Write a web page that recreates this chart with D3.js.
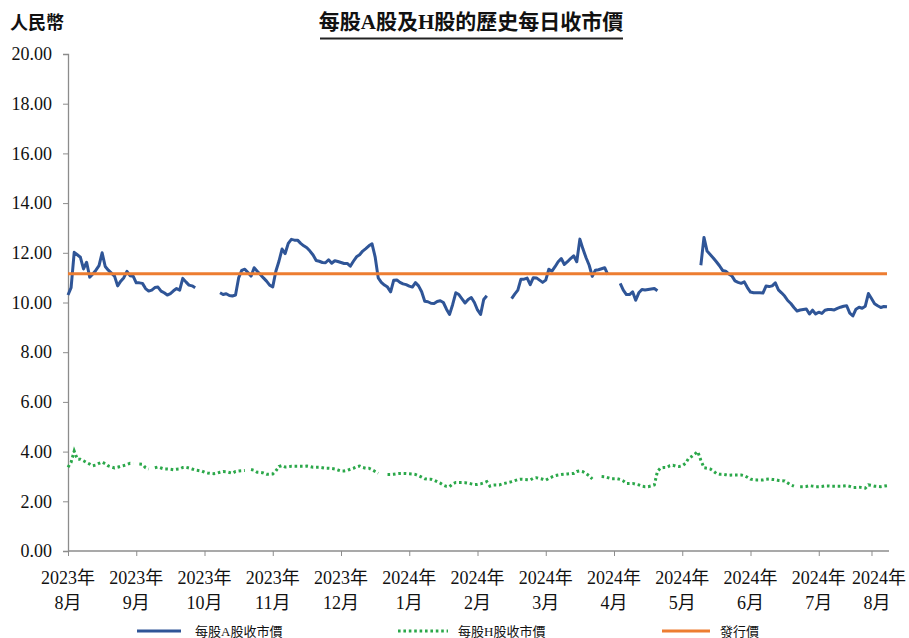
<!DOCTYPE html>
<html>
<head>
<meta charset="utf-8">
<script src="https://d3js.org/d3.v7.min.js"></script>
<style>
  body { margin: 0; background: #fff; }
  text { font-family: "Liberation Serif", "Noto Sans CJK TC", serif; fill: #111; }
</style>
</head>
<body>
<svg id="chart" width="909" height="638"></svg>
<script>
// one entry per trading-day category, null = no trading
var aShare = [
  10.30, 10.60, 12.02, 11.92, 11.82, 11.35, 11.62, 11.02, 11.15, 11.30,
  11.48, 12.00, 11.45, 11.30, 11.18, 11.06, 10.67, 10.86, 11.00, 11.25,
  11.08, 11.06, 10.79, 10.79, 10.77, 10.56, 10.46, 10.50, 10.60, 10.62,
  10.46, 10.39, 10.30, 10.36, 10.47, 10.56, 10.50, 10.97, 10.83, 10.70,
  10.67, 10.59, null, null, null, null, null, null, null, 10.39,
  10.32, 10.35, 10.28, 10.26, 10.30, 10.99, 11.29, 11.34, 11.21, 11.06,
  11.40, 11.26, 11.13, 10.99, 10.86, 10.70, 10.63, 11.26, 11.66, 12.15,
  11.97, 12.38, 12.54, 12.51, 12.51, 12.38, 12.28, 12.20, 12.07, 11.91,
  11.69, 11.66, 11.61, 11.60, 11.72, 11.58, 11.68, 11.65, 11.61, 11.57,
  11.57, 11.46, 11.66, 11.84, 11.92, 12.07, 12.17, 12.28, 12.36, 11.84,
  10.99, 10.81, 10.70, 10.62, 10.43, 10.90, 10.91, 10.81, 10.75, 10.72,
  10.66, 10.62, 10.80, 10.67, 10.43, 10.05, 10.03, 9.97, 9.96, 10.04,
  10.07, 10.00, 9.73, 9.52, 9.92, 10.39, 10.32, 10.15, 9.98, 10.12,
  10.20, 10.00, 9.70, 9.52, 10.12, 10.27, null, null, null, null,
  null, null, null, 10.16, 10.34, 10.50, 10.94, 10.94, 10.98, 10.72,
  11.00, 10.99, 10.90, 10.81, 10.90, 11.34, 11.26, 11.44, 11.64, 11.77,
  11.53, 11.64, 11.77, 11.88, 11.64, 12.55, 12.15, 11.80, 11.50, 11.05,
  11.30, 11.32, 11.36, 11.40, 11.12, null, null, null, 10.77, 10.50,
  10.32, 10.32, 10.43, 10.09, 10.39, 10.52, 10.50, 10.52, 10.54, 10.56,
  10.47, null, null, null, null, null, null, null, null, null,
  null, null, null, null, 11.50, 12.62, 12.07, 11.93, 11.79, 11.64,
  11.48, 11.29, 11.26, 11.15, 11.07, 10.87, 10.81, 10.77, 10.83, 10.60,
  10.42, 10.39, 10.39, 10.39, 10.38, 10.66, 10.64, 10.67, 10.79, 10.51,
  10.39, 10.26, 10.08, 9.96, 9.80, 9.66, 9.70, 9.72, 9.74, 9.54,
  9.69, 9.54, 9.61, 9.56, 9.69, 9.72, 9.72, 9.70, 9.76, 9.81,
  9.85, 9.87, 9.57, 9.46, 9.73, 9.81, 9.77, 9.85, 10.36, 10.16,
  9.95, 9.87, 9.80, 9.84, 9.83
];

var hShare = [
  3.37, 3.57, 4.02, 3.70, 3.69, 3.63, 3.56, 3.50, 3.43, 3.46,
  3.53, 3.58, 3.51, 3.42, 3.38, 3.34, 3.37, 3.41, 3.44, 3.48,
  3.53, 3.52, null, 3.50, 3.49, 3.35, 3.30, null, 3.35, 3.38,
  3.34, 3.30, 3.30, 3.29, 3.27, 3.29, 3.30, 3.36, 3.37, 3.34,
  3.30, 3.26, 3.24, 3.22, 3.17, 3.14, 3.12, 3.11, 3.13, 3.17,
  3.20, 3.19, 3.16, 3.13, 3.20, 3.22, 3.23, 3.24, null, 3.28,
  3.25, 3.17, 3.16, 3.14, 3.09, 3.09, 3.10, 3.22, 3.40, 3.44,
  3.38, 3.39, 3.41, 3.41, 3.41, 3.41, 3.41, 3.42, 3.40, 3.37,
  3.37, 3.37, 3.35, 3.33, 3.33, 3.32, 3.30, 3.26, 3.22, 3.22,
  3.24, 3.29, 3.33, 3.38, 3.42, 3.36, 3.33, 3.33, 3.27, 3.20,
  3.13, null, null, 3.08, 3.08, 3.09, 3.11, 3.12, 3.12, 3.12,
  3.11, 3.10, 3.08, 3.03, 2.97, 2.91, 2.89, 2.89, 2.85, 2.79,
  2.73, 2.65, 2.60, 2.59, 2.70, 2.76, 2.76, 2.76, 2.75, 2.73,
  2.70, 2.67, 2.68, 2.70, 2.74, 2.79, 2.61, 2.65, 2.66, 2.66,
  2.70, 2.73, 2.76, 2.79, 2.83, 2.87, 2.89, 2.88, 2.87, 2.86,
  2.93, 2.95, 2.92, 2.89, 2.85, 2.92, 2.98, 3.03, 3.06, 3.08,
  3.09, 3.10, 3.11, 3.12, 3.20, 3.22, 3.19, 3.12, 3.03, 2.90,
  null, null, 3.00, 2.99, 2.95, 2.91, 2.91, 2.91, 2.88, 2.82,
  2.72, 2.72, 2.72, 2.69, 2.66, 2.61, 2.59, 2.59, 2.62, 2.66,
  3.20, 3.34, 3.36, 3.36, 3.43, 3.45, 3.41, 3.40, 3.43, 3.52,
  3.72, 3.80, 3.90, 4.00, 3.65, 3.35, 3.33, 3.30, 3.22, 3.12,
  3.09, 3.09, 3.07, 3.05, 3.06, 3.06, 3.06, 3.06, 3.03, 2.97,
  2.89, 2.87, 2.86, 2.86, 2.86, 2.89, 2.90, 2.88, 2.87, 2.84,
  2.83, 2.82, 2.74, 2.66, 2.61, null, 2.59, 2.59, 2.60, 2.63,
  2.61, 2.59, 2.59, 2.60, 2.62, 2.62, 2.61, 2.61, 2.61, 2.61,
  2.62, 2.63, 2.60, 2.56, 2.56, 2.57, 2.55, 2.53, 2.66, 2.64,
  2.61, 2.60, 2.59, 2.61, 2.63
];

var issuePrice = 11.16;

var tickYears  = ["2023年","2023年","2023年","2023年","2023年","2024年","2024年","2024年","2024年","2024年","2024年","2024年","2024年"];
var tickMonths = ["8月","9月","10月","11月","12月","1月","2月","3月","4月","5月","6月","7月","8月"];
var tickIdx    = [0, 22, 44, 66, 88, 110, 132, 154, 176, 198, 220, 242, 259];
var yTicks     = [0, 2, 4, 6, 8, 10, 12, 14, 16, 18, 20];

var title = "每股A股及H股的歷史每日收市價";
var unitLabel = "人民幣";
var legendNames = ["每股A股收市價", "每股H股收市價", "發行價"];

var blue = "#2f5597", green = "#2ba84a", orange = "#ed7d31", axisGrey = "#8c8c8c";

var svg = d3.select("#chart");
var x = d3.scaleLinear().domain([0, aShare.length - 1]).range([68, 887]);
var y = d3.scaleLinear().domain([0, 20]).range([551, 54]);

// y axis
var yAxis = svg.append("g")
    .attr("transform", "translate(68,0)")
    .call(d3.axisLeft(y).tickValues(yTicks).tickFormat(d3.format(".2f")).tickSize(5).tickPadding(11));
yAxis.select(".domain").attr("stroke", axisGrey).attr("stroke-width", 1.3);
yAxis.selectAll(".tick line").attr("stroke", axisGrey);
yAxis.selectAll(".tick text")
    .attr("font-family", "Liberation Serif")
    .attr("font-size", 18).attr("fill", "#111");

// x axis
var xAxis = svg.append("g")
    .attr("transform", "translate(0,551)")
    .call(d3.axisBottom(x).tickValues(tickIdx).tickSize(5).tickFormat(""));
xAxis.select(".domain").attr("stroke", axisGrey).attr("stroke-width", 1.3)
    .attr("d", "M68,0H889");
xAxis.selectAll(".tick line").attr("stroke", axisGrey);

// two-line month labels; the last one is pushed right but kept inside the edge
var xl = svg.append("g").attr("font-size", 18);
tickIdx.forEach(function(t, i) {
  var last = i === tickIdx.length - 1;
  xl.append("text").attr("x", last ? 879 : x(t)).attr("y", 584)
    .attr("text-anchor", "middle").text(tickYears[i]);
  xl.append("text").attr("x", last ? 877 : x(t)).attr("y", 609)
    .attr("text-anchor", "middle").text(tickMonths[i]);
});

// series
var line = d3.line()
    .defined(function(d) { return d != null; })
    .x(function(d, i) { return x(i); })
    .y(function(d) { return y(d); });

svg.append("path").datum(hShare)
    .attr("d", line)
    .attr("fill", "none").attr("stroke", green)
    .attr("stroke-width", 3).attr("stroke-dasharray", "2.6,2.8");

svg.append("path").datum(aShare)
    .attr("d", line)
    .attr("fill", "none").attr("stroke", blue)
    .attr("stroke-width", 3).attr("stroke-linejoin", "round");

svg.append("line")
    .attr("x1", x(0)).attr("x2", x(aShare.length - 1))
    .attr("y1", y(issuePrice)).attr("y2", y(issuePrice))
    .attr("stroke", orange).attr("stroke-width", 3);

// titles
svg.append("text").attr("x", 10).attr("y", 29)
    .attr("font-size", 18).attr("font-weight", "bold").text(unitLabel);
svg.append("text").attr("x", 471).attr("y", 29)
    .attr("text-anchor", "middle")
    .attr("font-size", 21).attr("font-weight", "bold").text(title);
svg.append("line").attr("x1", 320).attr("x2", 623).attr("y1", 38.5).attr("y2", 38.5)
    .attr("stroke", "#222").attr("stroke-width", 2);

// legend
var legend = [
  { name: legendNames[0], color: blue, dash: null, x1: 137, x2: 181, tx: 195 },
  { name: legendNames[1], color: green, dash: "2.6,2.8", x1: 398, x2: 448, tx: 458 },
  { name: legendNames[2], color: orange, dash: null, x1: 662, x2: 710, tx: 720 }
];
var lg = svg.append("g");
legend.forEach(function(l) {
  lg.append("line").attr("x1", l.x1).attr("x2", l.x2).attr("y1", 631).attr("y2", 631)
    .attr("stroke", l.color).attr("stroke-width", 3)
    .attr("stroke-dasharray", l.dash);
  lg.append("text").attr("x", l.tx).attr("y", 636).attr("font-size", 13).text(l.name);
});
</script>
</body>
</html>
